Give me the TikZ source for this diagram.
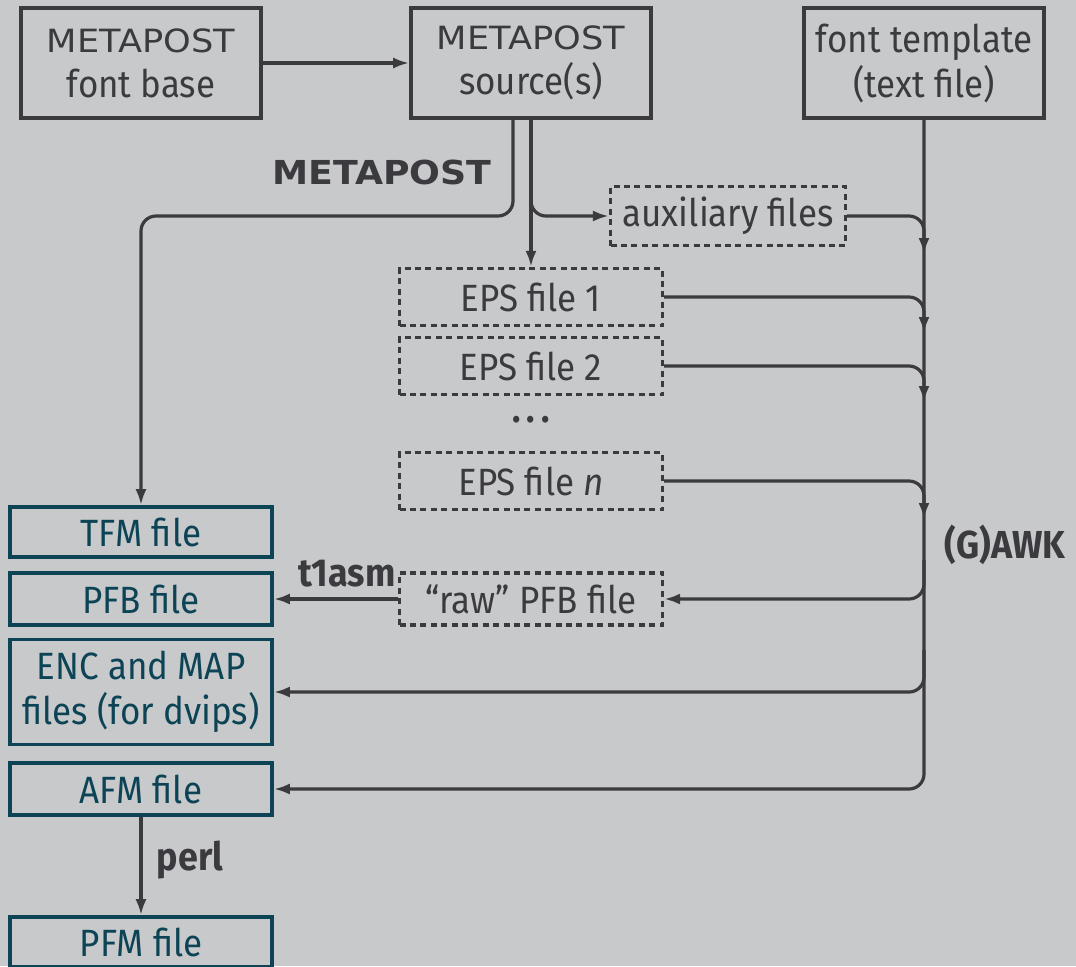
\documentclass[tikz,border=0pt]{standalone}
\usepackage{fontspec}
\setmainfont{Fira Sans}[FakeStretch=0.92]
\newfontfamily\mpfont{DejaVu Sans}[FakeStretch=1.1]
\usetikzlibrary{arrows.meta,positioning}
\definecolor{bggray}{HTML}{C8C9CB}
\definecolor{ink}{HTML}{3B3B3F}
\definecolor{filecol}{HTML}{0C4456}

\begin{document}
\begin{tikzpicture}[x=0.5pt,y=-0.5pt,
>={Latex[length=8pt,width=5.5pt]},
link/.style={->, line width=1.6pt, draw=ink, rounded corners=7.5pt},
srcbox/.style={rectangle, draw=ink, text=ink, line width=1.8pt, minimum width=120pt, minimum height=55pt, inner sep=0pt, align=center, font=\fontsize{19}{22.5}\selectfont},
tmpbox/.style={rectangle, draw=ink, text=ink, dash pattern=on 3pt off 2.2pt, line width=1.6pt, minimum width=131.5pt, minimum height=28.5pt, inner sep=0pt, font=\fontsize{19}{22.5}\selectfont},
outbox/.style={rectangle, draw=filecol, text=filecol, line width=1.8pt, minimum width=131pt, minimum height=25pt, inner sep=0pt, align=center, font=\fontsize{19}{22.5}\selectfont},
tool/.style={text=ink, font=\fontsize{19.5}{22.5}\selectfont\bfseries},
]
\fill[bggray] (0,0) rectangle (1076,966);
\useasboundingbox (0,0) rectangle (1076,966);

% sources
\node[srcbox] (base) at (141,63) {{\mpfont\fontsize{16}{22.5}\selectfont METAPOST}\\font base};
\node[srcbox] (src)  at (531,63) {{\mpfont\fontsize{16}{22.5}\selectfont METAPOST}\\source(s)};
\node[srcbox] (tmpl) at (924,63) {font template\\(text file)};

% intermediate files
\node[tmpbox, minimum width=117.5pt, minimum height=29.5pt] (aux) at (728,216) {auxiliary files};
\node[tmpbox] (eps1) at (531,297) {EPS file 1};
\node[tmpbox] (eps2) at (531,366) {EPS file 2};
\node[text=ink, font=\fontsize{19}{22.5}\selectfont\bfseries] (dots) at (531,420) {.\,.\,.};
\node[tmpbox] (epsn) at (531,481) {EPS file \textit{n}};
\node[tmpbox, minimum height=26pt] (raw) at (531,599) {“raw” PFB file};

% output files
\node[outbox] (tfm) at (141,532) {TFM file};
\node[outbox, minimum height=26pt] (pfb) at (141,599) {PFB file};
\node[outbox, minimum height=52.5pt] (enc) at (141,692) {ENC and MAP\\files (for dvips)};
\node[outbox, minimum height=26pt] (afm) at (141,789) {AFM file};
\node[outbox] (pfm) at (141,942) {PFM file};

% labels
\node[text=ink] (mplabel) at (382,172) {\mpfont\bfseries\fontsize{16.5}{20}\selectfont METAPOST};
\node[tool] (t1asm) at (347,574) {t1asm};
\node[tool] (awk) at (1005,545) {(G)AWK};
\node[tool] (perl) at (190,860) {perl};

% junctions on the awk line
\coordinate (j1) at (924,254);
\coordinate (j2) at (924,333);
\coordinate (j3) at (924,402);
\coordinate (j4) at (924,519);
\coordinate (o1) at (924,560);
\coordinate (o2) at (924,650);

\draw[link] (base) -- (src);
\draw[link] ([xshift=-9pt]src.south) |- (tfm.north |- aux.west) -- (tfm.north);
\draw[link] (src.south) -- (eps1.north);
\draw[link] (src.south) |- (aux.west);

\draw[link] (tmpl.south) |- (afm.east);
\foreach \f/\j in {aux/j1,eps1/j2,eps2/j3,epsn/j4}
  \draw[link] (\f.east) -| (\j);
\draw[link] (o1) |- (raw.east);
\draw[link] (o2) |- (enc.east);

\draw[link] (raw) -- (pfb);
\draw[link] (afm) -- (pfm);
\end{tikzpicture}
\end{document}
